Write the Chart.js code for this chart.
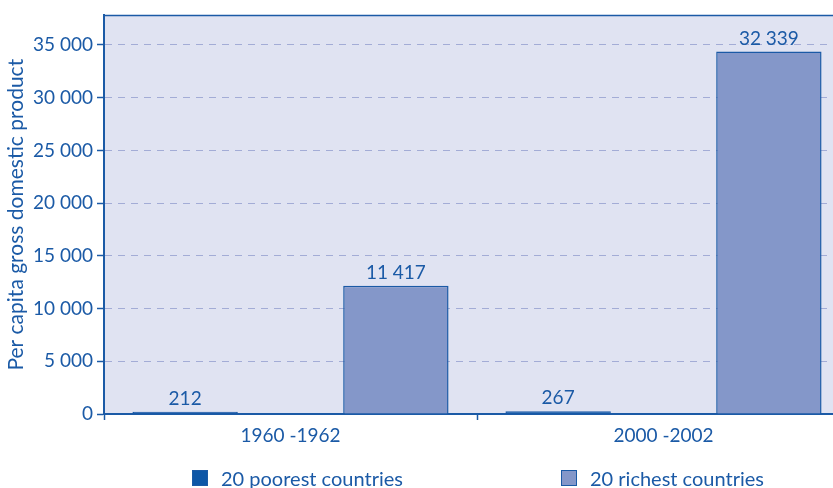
<!DOCTYPE html>
<html>
<head>
<meta charset="utf-8">
<script src="https://cdn.jsdelivr.net/npm/chart.js@4.4.1/dist/chart.umd.min.js"></script>
<style>
  html, body { margin: 0; padding: 0; background: #ffffff; overflow: hidden; }
  #wrap { position: relative; width: 850px; height: 488px; }
  .legend-item {
    position: absolute; top: 466px; display: flex; align-items: center;
    font: 20px Lato, sans-serif; color: #1b5aa6; white-space: nowrap;
  }
  .legend-item .box { width: 16px; height: 16px; box-sizing: border-box; border: 1.5px solid #1b5aa6; margin-right: 13px; }
</style>
</head>
<body>
<div id="wrap">
  <canvas id="chart-gdp"></canvas>
  <div class="legend-item" style="left:192px"><span class="box" style="background:#0d56a6"></span>20 poorest countries</div>
  <div class="legend-item" style="left:561px"><span class="box" style="background:#8497c9"></span>20 richest countries</div>
</div>
<script>
// periods on the x axis
const periods = ['1960 -1962', '2000 -2002'];

// bar heights as drawn in the picture
const poorestValues = [212, 267];
const richestValues = [12170, 34370];

// numbers printed above the bars
const poorestPrinted = ['212', '267'];
const richestPrinted = ['11 417', '32 339'];

const yTicks = [0, 5000, 10000, 15000, 20000, 25000, 30000, 35000];

const TEXT_BLUE = '#1b5aa6';
const AXIS_BLUE = '#1b5aa6';
const PLOT_BG = '#e0e3f2';
const GRID_DASH = '#a3acd6';
const FONT = { family: 'Lato, sans-serif', size: 19 };

function fmtThousands(v) {
    return String(v).replace(/\B(?=(\d{3})+(?!\d))/g, ' ');
}

// fundo lilás da área do gráfico + linha de cima
const plotBackground = {
    id: 'plotBackground',
    beforeDraw(chart) {
        const { ctx, chartArea: a } = chart;
        ctx.save();
        ctx.fillStyle = PLOT_BG;
        ctx.fillRect(a.left, a.top, a.right - a.left, a.bottom - a.top);
        ctx.strokeStyle = AXIS_BLUE;
        ctx.lineWidth = 1.5;
        ctx.beginPath();
        ctx.moveTo(a.left, a.top);
        ctx.lineTo(a.right, a.top);
        ctx.stroke();
        ctx.restore();
    }
};

// numbers above each bar
const valueLabels = {
    id: 'valueLabels',
    afterDatasetsDraw(chart) {
        const ctx = chart.ctx;
        ctx.save();
        ctx.font = `${FONT.size}px ${FONT.family}`;
        ctx.fillStyle = TEXT_BLUE;
        ctx.textAlign = 'center';
        ctx.textBaseline = 'alphabetic';
        chart.data.datasets.forEach((ds, i) => {
            chart.getDatasetMeta(i).data.forEach((bar, j) => {
                ctx.fillText(ds.printed[j], bar.x, bar.y - 7);
            });
        });
        ctx.restore();
    }
};

new Chart(document.getElementById('chart-gdp'), {
    type: 'bar',
    data: {
        labels: periods,
        datasets: [
            {
                label: '20 poorest countries',
                data: poorestValues,
                printed: poorestPrinted,
                backgroundColor: '#0d56a6',
                borderColor: AXIS_BLUE,
                borderWidth: 1.5
            },
            {
                label: '20 richest countries',
                data: richestValues,
                printed: richestPrinted,
                backgroundColor: '#8497c9',
                borderColor: AXIS_BLUE,
                borderWidth: 1.5
            }
        ]
    },
    options: {
        responsive: true,
        maintainAspectRatio: false,
        animation: false,
        categoryPercentage: 1.13,
        barPercentage: 0.5,
        layout: { padding: { top: 10, right: 0, bottom: 0, left: 0 } },
        plugins: {
            legend: { display: false },
            tooltip: { enabled: false }
        },
        scales: {
            x: {
                afterFit(scale) { scale.height = 74; },
                grid: {
                    offset: true,
                    drawOnChartArea: false,
                    drawTicks: true,
                    tickLength: 6,
                    tickWidth: 1.5,
                    tickColor: AXIS_BLUE
                },
                border: { display: true, color: AXIS_BLUE, width: 2 },
                ticks: { color: TEXT_BLUE, font: FONT, padding: 4 }
            },
            y: {
                min: 0,
                max: 37800,
                afterBuildTicks(scale) {
                    scale.ticks = yTicks.map(v => ({ value: v }));
                },
                afterFit(scale) { scale.width = 104; },
                ticks: {
                    color: TEXT_BLUE,
                    font: FONT,
                    padding: 4,
                    callback: v => fmtThousands(v)
                },
                grid: {
                    color: GRID_DASH,
                    lineWidth: 1,
                    tickLength: 7,
                    tickWidth: 1.5,
                    tickColor: AXIS_BLUE
                },
                border: { display: true, color: AXIS_BLUE, width: 2, dash: [7, 6] },
                title: {
                    display: true,
                    text: 'Per capita gross domestic product',
                    color: TEXT_BLUE,
                    font: { family: FONT.family, size: 21 },
                    padding: { top: 4, bottom: 0 }
                }
            }
        }
    },
    plugins: [plotBackground, valueLabels]
});
</script>
</body>
</html>
